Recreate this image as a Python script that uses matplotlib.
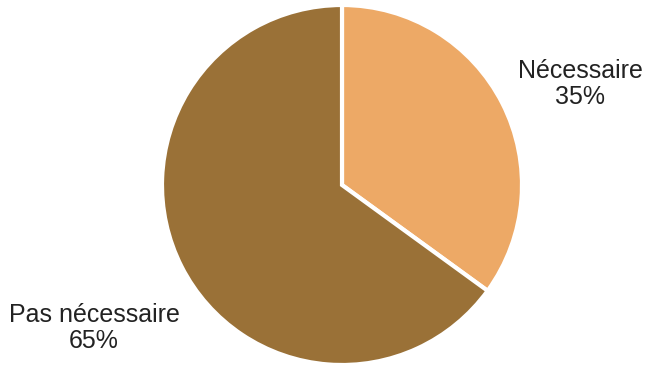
import matplotlib.pyplot as plt

labels = ["Nécessaire", "Pas nécessaire"]
values = [35, 65]
colors = ["#EDA966", "#9A7137"]

plt.rcParams['font.family'] = ['Liberation Sans', 'DejaVu Sans']

fig = plt.figure(figsize=(6.47, 3.66), dpi=100)
# pie centred at (342, 185) px with 180 px radius
ax = fig.add_axes([(342 - 180) / 647, (366 - 185 - 180) / 366, 360 / 647, 360 / 366])
ax.pie(values, colors=colors, startangle=90, counterclock=False,
       wedgeprops=dict(edgecolor="white", linewidth=3))
ax.set_xlim(-1, 1)
ax.set_ylim(-1, 1)
ax.set_aspect("equal")
ax.axis("off")

label_pos = [(1.325, 0.56), (-1.378, -0.795)]
for name, v, (x, y) in zip(labels, values, label_pos):
    ax.text(x, y, f"{name}\n{v}%", ha="center", va="center", fontsize=18,
            color="#222222", linespacing=1.1, clip_on=False)

fig.savefig("out.png", dpi=100)
